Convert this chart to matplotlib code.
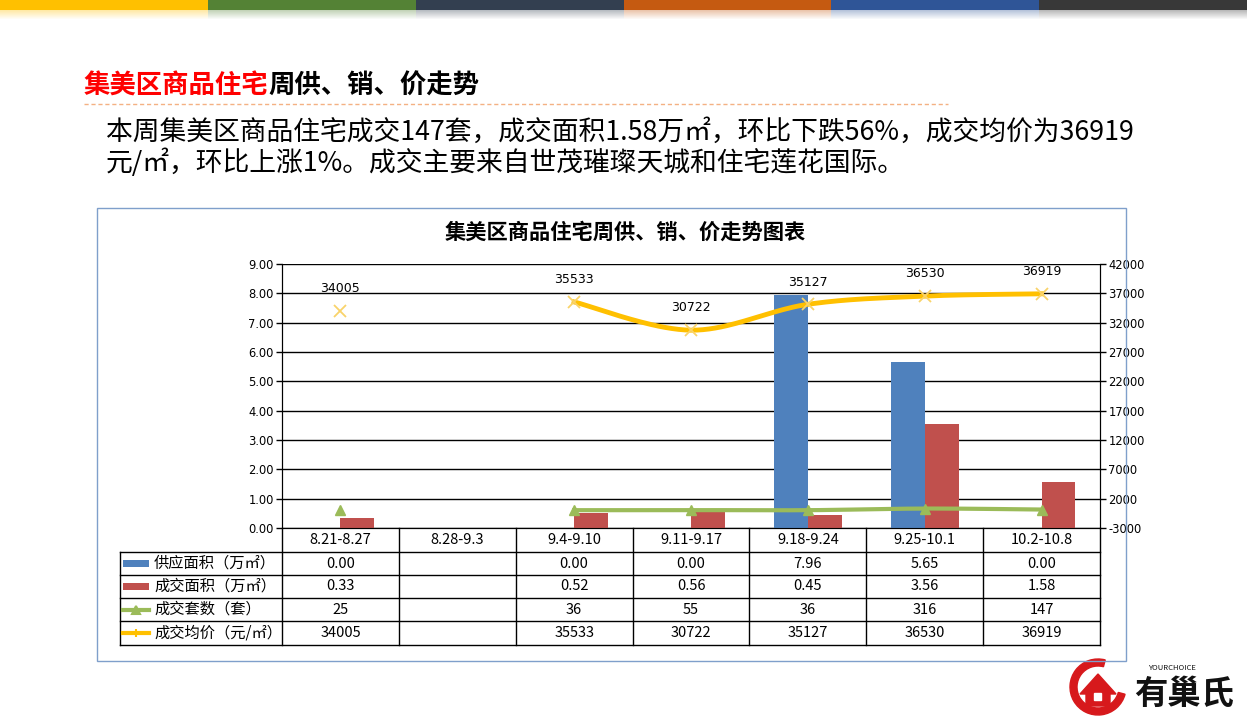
import numpy as np
import matplotlib
matplotlib.use("Agg")
import matplotlib.pyplot as plt
from matplotlib.patches import Rectangle, Wedge, Polygon
from matplotlib.lines import Line2D

plt.rcParams['font.family'] = ['Noto Sans CJK SC', 'DejaVu Sans']

W, H = 1247, 718

# data
weeks = ['8.21-8.27', '8.28-9.3', '9.4-9.10', '9.11-9.17', '9.18-9.24', '9.25-10.1', '10.2-10.8']
supply = [0.00, np.nan, 0.00, 0.00, 7.96, 5.65, 0.00]
deal_area = [0.33, np.nan, 0.52, 0.56, 0.45, 3.56, 1.58]
deal_units = [25, np.nan, 36, 55, 36, 316, 147]
avg_price = [34005, np.nan, 35533, 30722, 35127, 36530, 36919]
row_names = ['供应面积（万㎡）', '成交面积（万㎡）', '成交套数（套）', '成交均价（元/㎡）']

c_blue = '#4F81BD'
c_red = '#C0504D'
c_green = '#9BBB59'
c_gold = '#FFC000'


def fx(x):
    return x / W


def fy(y):
    return 1 - y / H


def smooth(xs, ys, n=40):
    # catmull-rom curve through the points, like excel's smoothed line
    pts = np.column_stack([xs, ys]).astype(float)
    pts = np.vstack([pts[0], pts, pts[-1]])
    out = []
    t = np.linspace(0, 1, n)[:, None]
    for i in range(1, len(pts) - 2):
        p0, p1, p2, p3 = pts[i - 1], pts[i], pts[i + 1], pts[i + 2]
        seg = 0.5 * ((2 * p1) + (-p0 + p2) * t + (2 * p0 - 5 * p1 + 4 * p2 - p3) * t ** 2
                     + (-p0 + 3 * p1 - 3 * p2 + p3) * t ** 3)
        out.append(seg)
    out = np.vstack(out)
    return out[:, 0], out[:, 1]


def runs(vals):
    idx = [i for i, v in enumerate(vals) if not np.isnan(v)]
    groups, cur = [], []
    for i in idx:
        if cur and i != cur[-1] + 1:
            groups.append(cur)
            cur = []
        cur.append(i)
    if cur:
        groups.append(cur)
    return groups


fig = plt.figure(figsize=(W / 100, H / 100), dpi=100)

# top colour strip
strip = ['#FFC000', '#548235', '#333F50', '#C55A11', '#2F5597', '#383838']
sw = W / len(strip)
for i, c in enumerate(strip):
    fig.patches.append(Rectangle((fx(i * sw), fy(10)), fx(sw), 10 / H, color=c,
                                 transform=fig.transFigure, lw=0))
    for k in range(9):
        fig.patches.append(Rectangle((fx(i * sw), fy(11 + k)), fx(sw), 1 / H, color=c,
                                     alpha=0.35 * (1 - k / 9), transform=fig.transFigure, lw=0))

# heading
t1 = fig.text(fx(84), fy(86), '集美区商品住宅', color='#FF0000', fontsize=19,
              fontweight='bold', va='center', ha='left')
fig.canvas.draw()
bb = t1.get_window_extent()
fig.text(bb.x1 / W, fy(86), '周供、销、价走势', color='black', fontsize=19,
         fontweight='bold', va='center', ha='left')
fig.add_artist(Line2D([fx(84), fx(948)], [fy(104), fy(104)], color='#F4B183',
                      lw=1, ls=(0, (3, 2)), transform=fig.transFigure))

fig.text(fx(106), fy(132), '本周集美区商品住宅成交147套，成交面积1.58万㎡，环比下跌56%，成交均价为36919',
         fontsize=19.3, va='center', ha='left', color='black')
fig.text(fx(106), fy(163), '元/㎡，环比上涨1%。成交主要来自世茂璀璨天城和住宅莲花国际。',
         fontsize=19.3, va='center', ha='left', color='black')

# chart frame
fig.patches.append(Rectangle((fx(97), fy(661)), fx(1126 - 97), (661 - 208) / H, fill=False,
                             ec='#7F9FCB', lw=1, transform=fig.transFigure))
fig.text(fx(625), fy(232), '集美区商品住宅周供、销、价走势图表', fontsize=15.3, fontweight='bold',
         ha='center', va='center')

# plot area
ax = fig.add_axes([fx(282), fy(528), fx(1100 - 282), (528 - 264) / H])
ax2 = ax.twinx()
x = np.arange(len(weeks))
bw = 0.29
ax.bar(x - bw / 2, supply, bw, color=c_blue, zorder=3)
ax.bar(x + bw / 2, deal_area, bw, color=c_red, zorder=3)
ax.set_xlim(-0.5, len(weeks) - 0.5)
ax.set_ylim(0, 9)
ax.set_yticks(np.arange(0, 10, 1))
ax.set_yticklabels(['%.2f' % v for v in np.arange(0, 10, 1)], fontsize=8.3, family='DejaVu Sans')
ax.yaxis.grid(True, color='black', lw=1, zorder=0)
ax.set_axisbelow(True)
ax.set_xticks([])
ax.tick_params(axis='y', length=4, width=1, pad=2)
for s in ['top']:
    ax.spines[s].set_visible(False)
    ax2.spines[s].set_visible(False)

ax2.set_ylim(-3000, 42000)
ax2.set_yticks(np.arange(-3000, 42001, 5000))
ax2.set_yticklabels([str(v) for v in np.arange(-3000, 42001, 5000)], fontsize=8.3, family='DejaVu Sans')
ax2.tick_params(axis='y', length=4, width=1, pad=2)

# units line (right axis)
for g in runs(deal_units):
    gx = x[g]
    gy = np.array(deal_units)[g]
    if len(g) > 1:
        sx, sy = smooth(gx, gy)
        ax2.plot(sx, sy, color=c_green, lw=3, zorder=4)
    ax2.plot(gx, gy, ls='none', marker='^', ms=7, color=c_green, zorder=5)

# price line (right axis)
for g in runs(avg_price):
    gx = x[g]
    gy = np.array(avg_price)[g]
    if len(g) > 1:
        sx, sy = smooth(gx, gy)
        ax2.plot(sx, sy, color=c_gold, lw=3.5, zorder=4)
    ax2.plot(gx, gy, ls='none', marker='x', ms=9, mew=1.3, color='#F9D36A', zorder=5)
for xi, p in zip(x, avg_price):
    if not np.isnan(p):
        ax2.annotate(str(int(p)), (xi, p), xytext=(0, 16), textcoords='offset points',
                     ha='center', va='center', fontsize=9, family='DejaVu Sans')

# data table under the plot
tr = ax.get_xaxis_transform()
ah = 528 - 264
rows_px = [528, 552, 575, 598, 621, 645]
ry = [(528 - r) / ah for r in rows_px]
left = -0.5 - (282 - 120) / ((1100 - 282) / len(weeks))
kw = dict(color='black', lw=1, transform=tr, clip_on=False)
for yy in ry[1:]:
    ax.add_line(Line2D([left, len(weeks) - 0.5], [yy, yy], **kw))
for i in range(len(weeks) + 1):
    ax.add_line(Line2D([i - 0.5, i - 0.5], [ry[0], ry[-1]], **kw))
ax.add_line(Line2D([left, left], [ry[1], ry[-1]], **kw))

for i, w in enumerate(weeks):
    ax.text(i, (ry[0] + ry[1]) / 2, w, transform=tr, ha='center', va='center', fontsize=10.5)

table_vals = [
    ['' if np.isnan(v) else '%.2f' % v for v in supply],
    ['' if np.isnan(v) else '%.2f' % v for v in deal_area],
    ['' if np.isnan(v) else '%d' % v for v in deal_units],
    ['' if np.isnan(v) else '%d' % v for v in avg_price],
]
for r, vals in enumerate(table_vals):
    yc = (ry[r + 1] + ry[r + 2]) / 2
    for i, v in enumerate(vals):
        ax.text(i, yc, v, transform=tr, ha='center', va='center', fontsize=10.5)

# legend keys and names in the first column
key_x0 = fx(123)
key_w = fx(149) - fx(123)
for r, name in enumerate(row_names):
    ymid_px = (rows_px[r + 1] + rows_px[r + 2]) / 2
    if r < 2:
        fig.patches.append(Rectangle((key_x0, fy(ymid_px + 3.5)), key_w, 7 / H,
                                     color=[c_blue, c_red][r], transform=fig.transFigure, lw=0))
    else:
        col = [c_green, c_gold][r - 2]
        fig.add_artist(Line2D([key_x0, key_x0 + key_w], [fy(ymid_px), fy(ymid_px)], color=col,
                              lw=3, transform=fig.transFigure))
        fig.add_artist(Line2D([key_x0 + key_w / 2], [fy(ymid_px)], color=col, ls='none',
                              marker=['^', '+'][r - 2], ms=6, mew=1.5, transform=fig.transFigure))
    fig.text(fx(154), fy(ymid_px), name, fontsize=11, ha='left', va='center')

# logo
lax = fig.add_axes([fx(1062), fy(716), fx(185), 62 / H])
lax.set_xlim(0, 185)
lax.set_ylim(0, 62)
lax.axis('off')
lax.add_patch(Wedge((36, 29), 28, 75, 345, width=7, color='#D7191C'))
lax.add_patch(Polygon([[18, 22], [36, 42], [54, 22], [48, 22], [48, 10], [24, 10], [24, 22]],
                      closed=True, color='#D7191C'))
lax.add_patch(Rectangle((32, 16), 7, 7, color='white'))
lax.text(72, 22, '有巢氏', fontsize=24, fontweight='bold', style='italic', color='#111111',
         ha='left', va='center')
lax.text(86, 48, 'YOURCHOICE', fontsize=5.5, style='italic', color='#111111', ha='left', va='center')

fig.savefig('out.png', dpi=100, facecolor='white')
